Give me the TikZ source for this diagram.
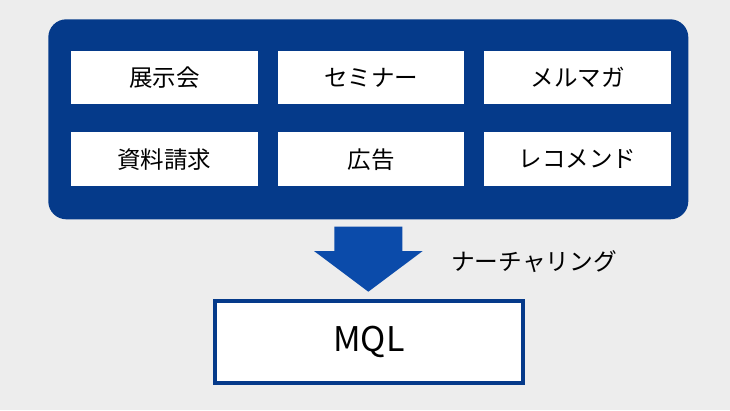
\documentclass[tikz,border=0pt]{standalone}
\usepackage{fontspec}
\setmainfont{Noto Sans CJK JP}
\definecolor{bg}{HTML}{EDEDED}
\definecolor{navy}{HTML}{053A8A}
\definecolor{arrowblue}{HTML}{0B4BAA}
\tikzset{
  item/.style={fill=white, minimum width=186.5pt, minimum height=53.5pt, inner sep=0pt, font=\fontsize{23.5}{28}\selectfont},
}
\begin{document}
\begin{tikzpicture}[x=1pt,y=-1pt]
\fill[bg] (0,0) rectangle (730,410);
\useasboundingbox (0,0) rectangle (730,410);
\fill[navy, rounded corners=18pt] (48.3,19.3) rectangle (688.3,219.3);
\node[item] (b1) at (164.3,77.5) {展示会};
\node[item] (b2) at (371,77.5) {セミナー};
\node[item] (b3) at (577.7,77.5) {メルマガ};
\node[item] (b4) at (164.3,159.2) {資料請求};
\node[item] (b5) at (371,159.2) {広告};
\node[item] (b6) at (577.7,159.2) {レコメンド};
\fill[arrowblue] (334.3,226.7) -- (402.3,226.7) -- (402.3,251) -- (422.7,251) -- (368.3,291.7) -- (314,251) -- (334.3,251) -- cycle;
\node[anchor=west, inner sep=0pt, font=\fontsize{23.7}{28}\selectfont] (nt) at (451,261.7) {ナーチャリング};
\node[draw=navy, line width=4pt, fill=white, minimum width=308.3pt, minimum height=82pt, inner sep=0pt, font=\fontsize{34}{40}\selectfont] (mql) at (368.9,342) {MQL};
\end{tikzpicture}
\end{document}
